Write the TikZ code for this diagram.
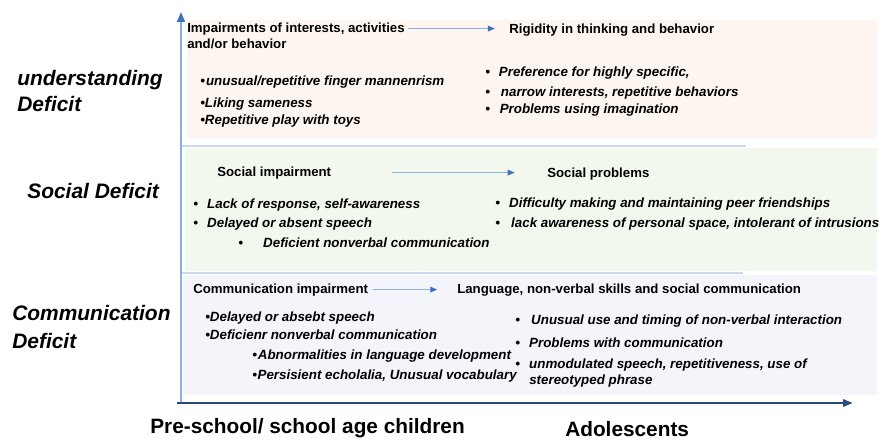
\documentclass[tikz,border=0pt]{standalone}
\usepackage{fontspec}
\setmainfont{Liberation Sans}
\usetikzlibrary{arrows.meta,positioning}

\definecolor{peach}{HTML}{FDF5EF}
\definecolor{mint}{HTML}{F3F8EE}
\definecolor{lilac}{HTML}{F4F5FA}
\definecolor{sepblue}{HTML}{C9D8F0}
\definecolor{flowblue}{HTML}{8FB0E0}
\definecolor{tipblue}{HTML}{3F6FC0}
\definecolor{axisblue}{HTML}{8DB0E3}
\definecolor{navy}{HTML}{2B4A7C}

% bullet with a gap after it
\newcommand{\bul}[1][0pt]{\textbullet\hspace{#1}}

\tikzset{
  head/.style={anchor=base west,inner sep=0pt,font=\fontsize{9.4}{11}\selectfont\bfseries},
  item/.style={anchor=base west,inner sep=0pt,font=\fontsize{9.5}{11}\selectfont\bfseries\itshape},
  side/.style={anchor=base west,inner sep=0pt,font=\fontsize{14.9}{18}\selectfont\bfseries\itshape},
  age/.style={anchor=base west,inner sep=0pt,font=\fontsize{14.8}{18}\selectfont\bfseries},
  flow/.style={-{Triangle[length=5pt,width=4pt,color=tipblue]},draw=flowblue,line width=0.9pt},
  sep/.style={draw=sepblue,line width=1.4pt},
  yaxis/.style={-{Triangle[length=7pt,width=5.5pt,color=tipblue]},draw=axisblue,line width=1.4pt},
  xaxis/.style={-{Triangle[length=7pt,width=5pt]},draw=navy,line width=2pt}
}

\begin{document}
\begin{tikzpicture}[x=0.25mm,y=-0.25mm]
  \useasboundingbox (0,0) rectangle (886,439);

  % bands
  \fill[peach] (187,20) rectangle (877,138);
  \fill[mint] (185,148) rectangle (877,271);
  \fill[lilac] (183,275) rectangle (877,395);
  \draw[sep] (181,146) -- (746,146);
  \draw[sep] (181,273) -- (743,273);

  % axes
  \coordinate (o) at (181,403);
  \coordinate (ytop) at (181,12);
  \coordinate (xstart) at (177,403);
  \coordinate (xend) at (853,403);
  \draw[yaxis] (o) -- (ytop);
  \draw[xaxis] (xstart) -- (xend);

  % row labels
  \node[side] (ud1) at (17,85) {understanding};
  \node[side] (ud2) at (17,111) {Deficit};
  \node[side] (sd) at (27,198) {Social Deficit};
  \node[side] (cd1) at (12,320) {Communication};
  \node[side] (cd2) at (12,348) {Deficit};

  % understanding
  \node[head] (u-h0) at (187,32) {Impairments of interests, activities};
  \node[head,below=11.4pt of u-h0.base west,anchor=base west] (u-h0b) {and/or behavior};
  \node[head] (u-h1) at (509,33) {Rigidity in thinking and behavior};
  \draw[flow,shorten <=2pt,shorten >=10pt] (u-h0) -- (u-h0 -| u-h1.west);

  \node[item] (u0) at (200,85) {\bul[0.8pt]unusual/repetitive finger mannenrism};
  \node[item] (u1) at (200,107) {\bul Liking sameness};
  \node[item] (u2) at (200,124) {\bul Repetitive play with toys};
  \node[item] (u3) at (485,76) {\bul[6.4pt]Preference for highly specific,};
  \node[item] (u4) at (485,96) {\bul[7.8pt]narrow interests, repetitive behaviors};
  \node[item] (u5) at (485,113) {\bul[7pt]Problems using imagination};

  % social
  \node[head] (s-h0) at (217,176) {Social impairment};
  \node[head] (s-h1) at (547,177) {Social problems};
  \draw[flow,shorten <=43pt,shorten >=23pt] (s-h0) -- (s-h0 -| s-h1.west);

  \node[item] (s0) at (193,208) {\bul[6.6pt]Lack of response, self-awareness};
  \node[item] (s1) at (193,227) {\bul[6.6pt]Delayed or absent speech};
  \node[item] (s2) at (238,247) {\bul[14.4pt]Deficient nonverbal communication};
  \node[item] (s3) at (495,207) {\bul[6.6pt]Difficulty making and maintaining peer friendships};
  \node[item] (s4) at (495,227) {\bul[8pt]lack awareness of personal space, intolerant of intrusions};

  % communication
  \node[head] (c-h0) at (193,293) {Communication impairment};
  \node[head] (c-h1) at (457,293) {Language, non-verbal skills and social communication};
  \draw[flow,shorten <=3pt,shorten >=14pt] (c-h0) -- (c-h0 -| c-h1.west);

  \node[item] (c0) at (205,321) {\bul Delayed or absebt speech};
  \node[item] (c1) at (205,339) {\bul Deficienr nonverbal communication};
  \node[item] (c2) at (252,359) {\bul[0.7pt]Abnormalities in language development};
  \node[item] (c3) at (252,379) {\bul[0.5pt]Persisient echolalia, Unusual vocabulary};
  \node[item] (c4) at (515,324) {\bul[8pt]Unusual use and timing of non-verbal interaction};
  \node[item] (c5) at (515,347) {\bul[6.6pt]Problems with communication};
  \node[item] (c6) at (515,368) {\bul[6.6pt]unmodulated speech, repetitiveness, use of};
  \node[item] (c7) at (529,384) {stereotyped phrase};

  % age groups
  \node[age] (child) at (150,433) {Pre-school/ school age children};
  \node[age] (teen) at (565,436) {Adolescents};
\end{tikzpicture}
\end{document}
